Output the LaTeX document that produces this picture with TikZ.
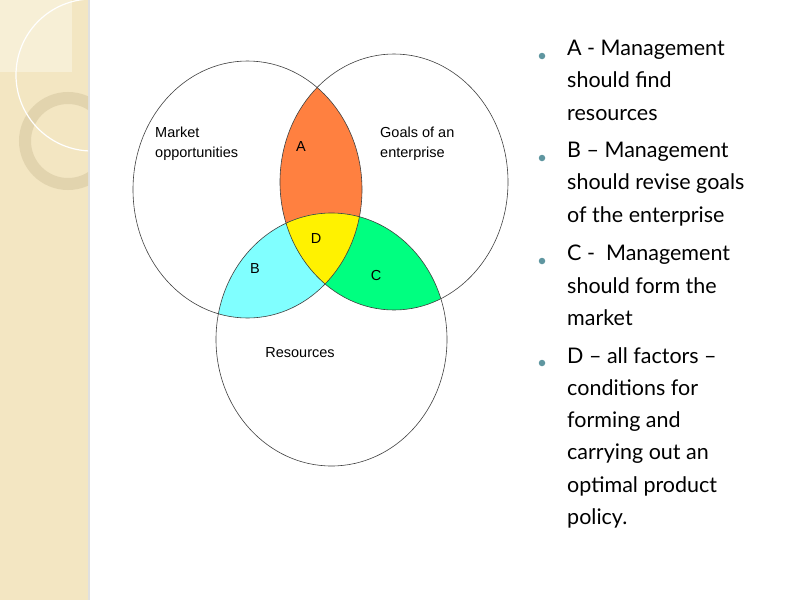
\documentclass[tikz,border=0pt]{standalone}
\usepackage{fontspec}
\setmainfont{Liberation Sans}
\newfontfamily\bodyfont[Ligatures=TeX]{Lato}
\definecolor{strip}{RGB}{243,230,194}
\definecolor{stripl}{RGB}{247,239,214}
\definecolor{ring}{RGB}{222,208,170}
\definecolor{cA}{RGB}{255,128,64}
\definecolor{cB}{RGB}{128,255,255}
\definecolor{cC}{RGB}{0,255,128}
\definecolor{bul}{RGB}{95,150,160}
\begin{document}
\begin{tikzpicture}[x=1pt,y=-1pt,
  lbl/.style={font=\fontsize{14.5}{20}\selectfont, align=left, anchor=north west, inner sep=0},
  let/.style={font=\fontsize{14.5}{18}\selectfont, inner sep=0},
  bl/.style={font=\bodyfont\fontsize{21.5}{32.3}\selectfont, align=left, anchor=north west, inner sep=0},
  dot/.style={circle, fill=bul, inner sep=0, minimum size=6.5pt}]
\useasboundingbox (0,0) rectangle (800,600);
\fill[white] (0,0) rectangle (800,600);
% left strip
\fill[strip] (0,0) rectangle (88,600);
\fill[stripl] (0,0) rectangle (72,72);
\fill[black!12] (88,0) rectangle (90,600);
\begin{scope}
\clip (0,0) rectangle (88,600);
\draw[ring, line width=12pt, opacity=.8] (68,141) circle (43);
\draw[white, line width=1.2pt] (92,75) circle (76);
\end{scope}
% regions
\def\Lc{(247.5,189.5) ellipse [x radius=114.5, y radius=128.5]}
\def\Rc{(394,182) ellipse [x radius=114, y radius=128]}
\def\Bc{(331.5,339.5) ellipse [x radius=115.5, y radius=126.5]}
\begin{scope}\clip \Lc; \fill[cA] \Rc; \end{scope}
\begin{scope}\clip \Lc; \fill[cB] \Bc; \end{scope}
\begin{scope}\clip \Rc; \fill[cC] \Bc; \end{scope}
\begin{scope}\clip \Lc; \clip \Rc; \fill[yellow] \Bc; \end{scope}
\draw[black!75, line width=0.6pt] \Lc; \draw[black!75, line width=0.6pt] \Rc; \draw[black!75, line width=0.6pt] \Bc;
\node[lbl] (mo) at (155,127) {Market\\opportunities};
\node[lbl] (go) at (380,127) {Goals of an\\enterprise};
\node[let] (a) at (301,147) {A};
\node[let] (d) at (316,239) {D};
\node[let] (b) at (255,269) {B};
\node[let] (c) at (376,276) {C};
\node[lbl,anchor=center] (r) at (300,353) {Resources};
% bullets
\node[bl] (t1) at (567,40) {A - Management\\should find\\resources};
\node[bl] (t2) at (567,142) {B -- Management\\should revise goals\\of the enterprise};
\node[bl] (t3) at (567,245) {C -\ \ Management\\should form the\\market};
\node[bl] (t4) at (567,347) {D -- all factors --\\conditions for\\forming and\\carrying out an\\optimal product\\policy.};
\node[dot] (d1) at (542,56) {};
\node[dot] (d2) at (542,158) {};
\node[dot] (d3) at (542,261) {};
\node[dot] (d4) at (542,363) {};
\end{tikzpicture}
\end{document}
